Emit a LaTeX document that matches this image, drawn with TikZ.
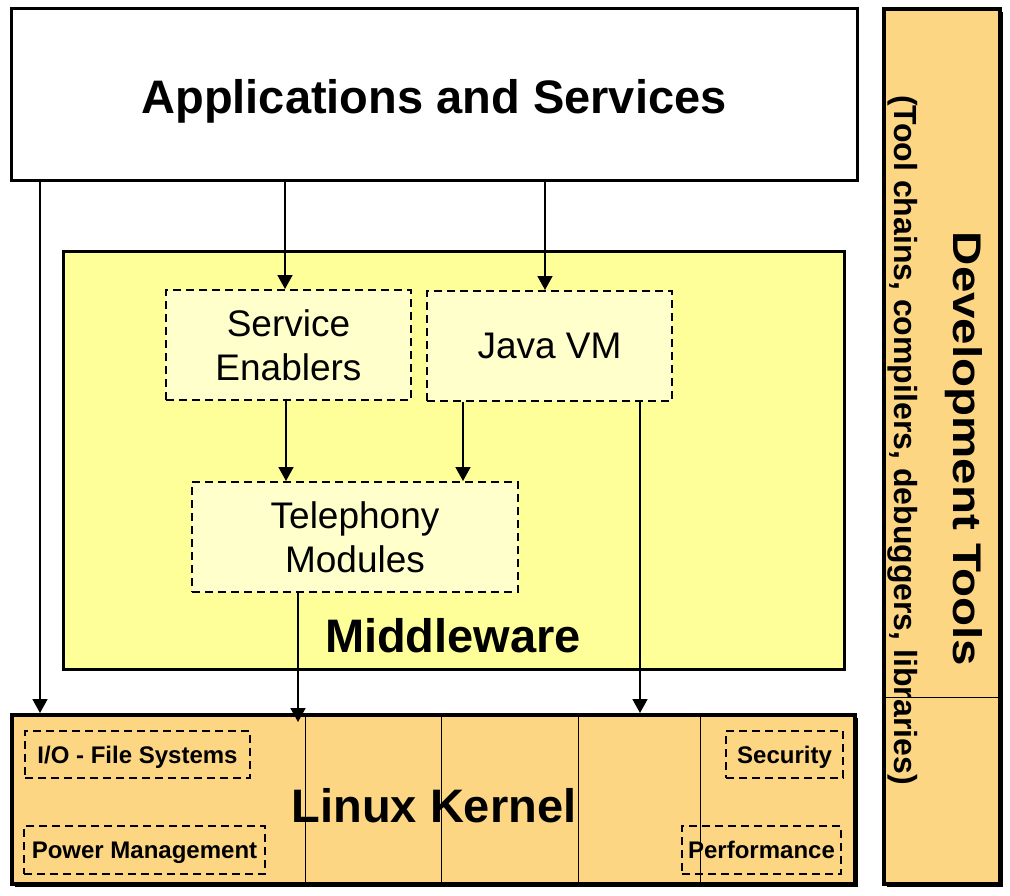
\documentclass[tikz,border=0pt]{standalone}
\usepackage{fontspec}
\setmainfont{Liberation Sans}
\usepackage{graphicx}
\usetikzlibrary{arrows.meta,shadows}
\definecolor{mwyellow}{RGB}{255,255,153}
\definecolor{inyellow}{RGB}{255,255,204}
\definecolor{kern}{RGB}{253,214,132}
\begin{document}
\begin{tikzpicture}[x=1pt,y=-1pt,
  plainbox/.style={draw=black, line width=3pt, rectangle},
  outerbox/.style={draw=black, line width=4pt, rectangle, fill=kern,
    drop shadow={shadow xshift=3pt, shadow yshift=-3pt, opacity=1, fill=black}},
  inbox/.style={draw=black, line width=2pt, dash pattern=on 8pt off 5pt,
    fill=inyellow, rectangle, align=center, inner sep=0pt,
    font=\fontsize{37}{44}\selectfont},
  smallbox/.style={draw=black, line width=2pt, dash pattern=on 8pt off 5pt,
    rectangle, inner sep=0pt, text depth=0pt, font=\fontsize{24}{28}\selectfont\bfseries},
  bigtext/.style={inner sep=0pt, anchor=base, font=\fontsize{47}{56}\selectfont\bfseries},
  arr/.style={line width=1.7pt, -{Triangle[width=15pt,length=14pt]}},
  divline/.style={line width=1pt}]
\useasboundingbox (0,0) rectangle (1010,895);

% Applications
\node[plainbox, fill=white, minimum width=846pt, minimum height=172pt] (apps) at (434,94) {};
\node[bigtext] (appst) at (434,113) {Applications and Services};

% Middleware
\node[plainbox, fill=mwyellow, minimum width=781pt, minimum height=418pt] (mw) at (453.5,460) {};
\node[bigtext] (mwt) at (453,652) {Middleware};
\node[inbox, minimum width=245pt, minimum height=110pt] (se) at (288.5,345) {Service\\Enablers};
\node[inbox, minimum width=245pt, minimum height=110pt] (java) at (549.5,346) {Java VM};
\node[inbox, minimum width=326pt, minimum height=110pt] (tel) at (355,537) {Telephony\\Modules};

% Linux kernel
\node[outerbox, minimum width=843pt, minimum height=169pt] (kernel) at (433.5,799.5) {};
\foreach \xx/\nm in {305/k1,441/k2,578/k3,700/k4}{
  \coordinate (\nm) at (\xx,0);
  \draw[divline] (kernel.north -| \nm) -- (kernel.south -| \nm);
}
\node[smallbox, minimum width=225pt, minimum height=47pt] (io) at (137.5,754.5) {I/O - File Systems};
\node[smallbox, minimum width=241pt, minimum height=48pt] (pm) at (144.5,850) {Power Management};
\node[smallbox, minimum width=117pt, minimum height=47pt] (sec) at (784.5,754.5) {Security};
\node[smallbox, minimum width=159pt, minimum height=48pt] (perf) at (761.5,850) {Performance};
\node[bigtext] (kt) at (434,822) {Linux Kernel};

% Development tools
\node[outerbox, minimum width=116pt, minimum height=875pt] (dev) at (942,446.5) {};
\coordinate (yh) at (0,697);
\draw[divline] (dev.west |- yh) -- (dev.east |- yh);
\node[rotate=-90, anchor=base, inner sep=0pt, font=\fontsize{40}{48}\selectfont\bfseries] (devt) at (953,449) {\scalebox{1.187}[1]{Development Tools}};
\node[rotate=-90, anchor=base, inner sep=0pt, font=\fontsize{32}{38}\selectfont\bfseries] (devs) at (894.5,440) {(Tool chains, compilers, debuggers, libraries)};

% Arrows
\coordinate (xa) at (40,0);
\coordinate (xb) at (285,0);
\coordinate (xc) at (545,0);
\coordinate (xd) at (286,0);
\coordinate (xe) at (463,0);
\coordinate (xf) at (298,0);
\coordinate (xg) at (640,0);
\draw[arr] (apps.south -| xa) -- (kernel.north -| xa);
\draw[arr] (apps.south -| xb) -- (se.north -| xb);
\draw[arr] (apps.south -| xc) -- (java.north -| xc);
\draw[arr] (se.south -| xd) -- (tel.north -| xd);
\draw[arr] (java.south -| xe) -- (tel.north -| xe);
\draw[arr, shorten >=-9pt] (tel.south -| xf) -- (kernel.north -| xf);
\draw[arr] (java.south -| xg) -- (kernel.north -| xg);
\end{tikzpicture}
\end{document}
